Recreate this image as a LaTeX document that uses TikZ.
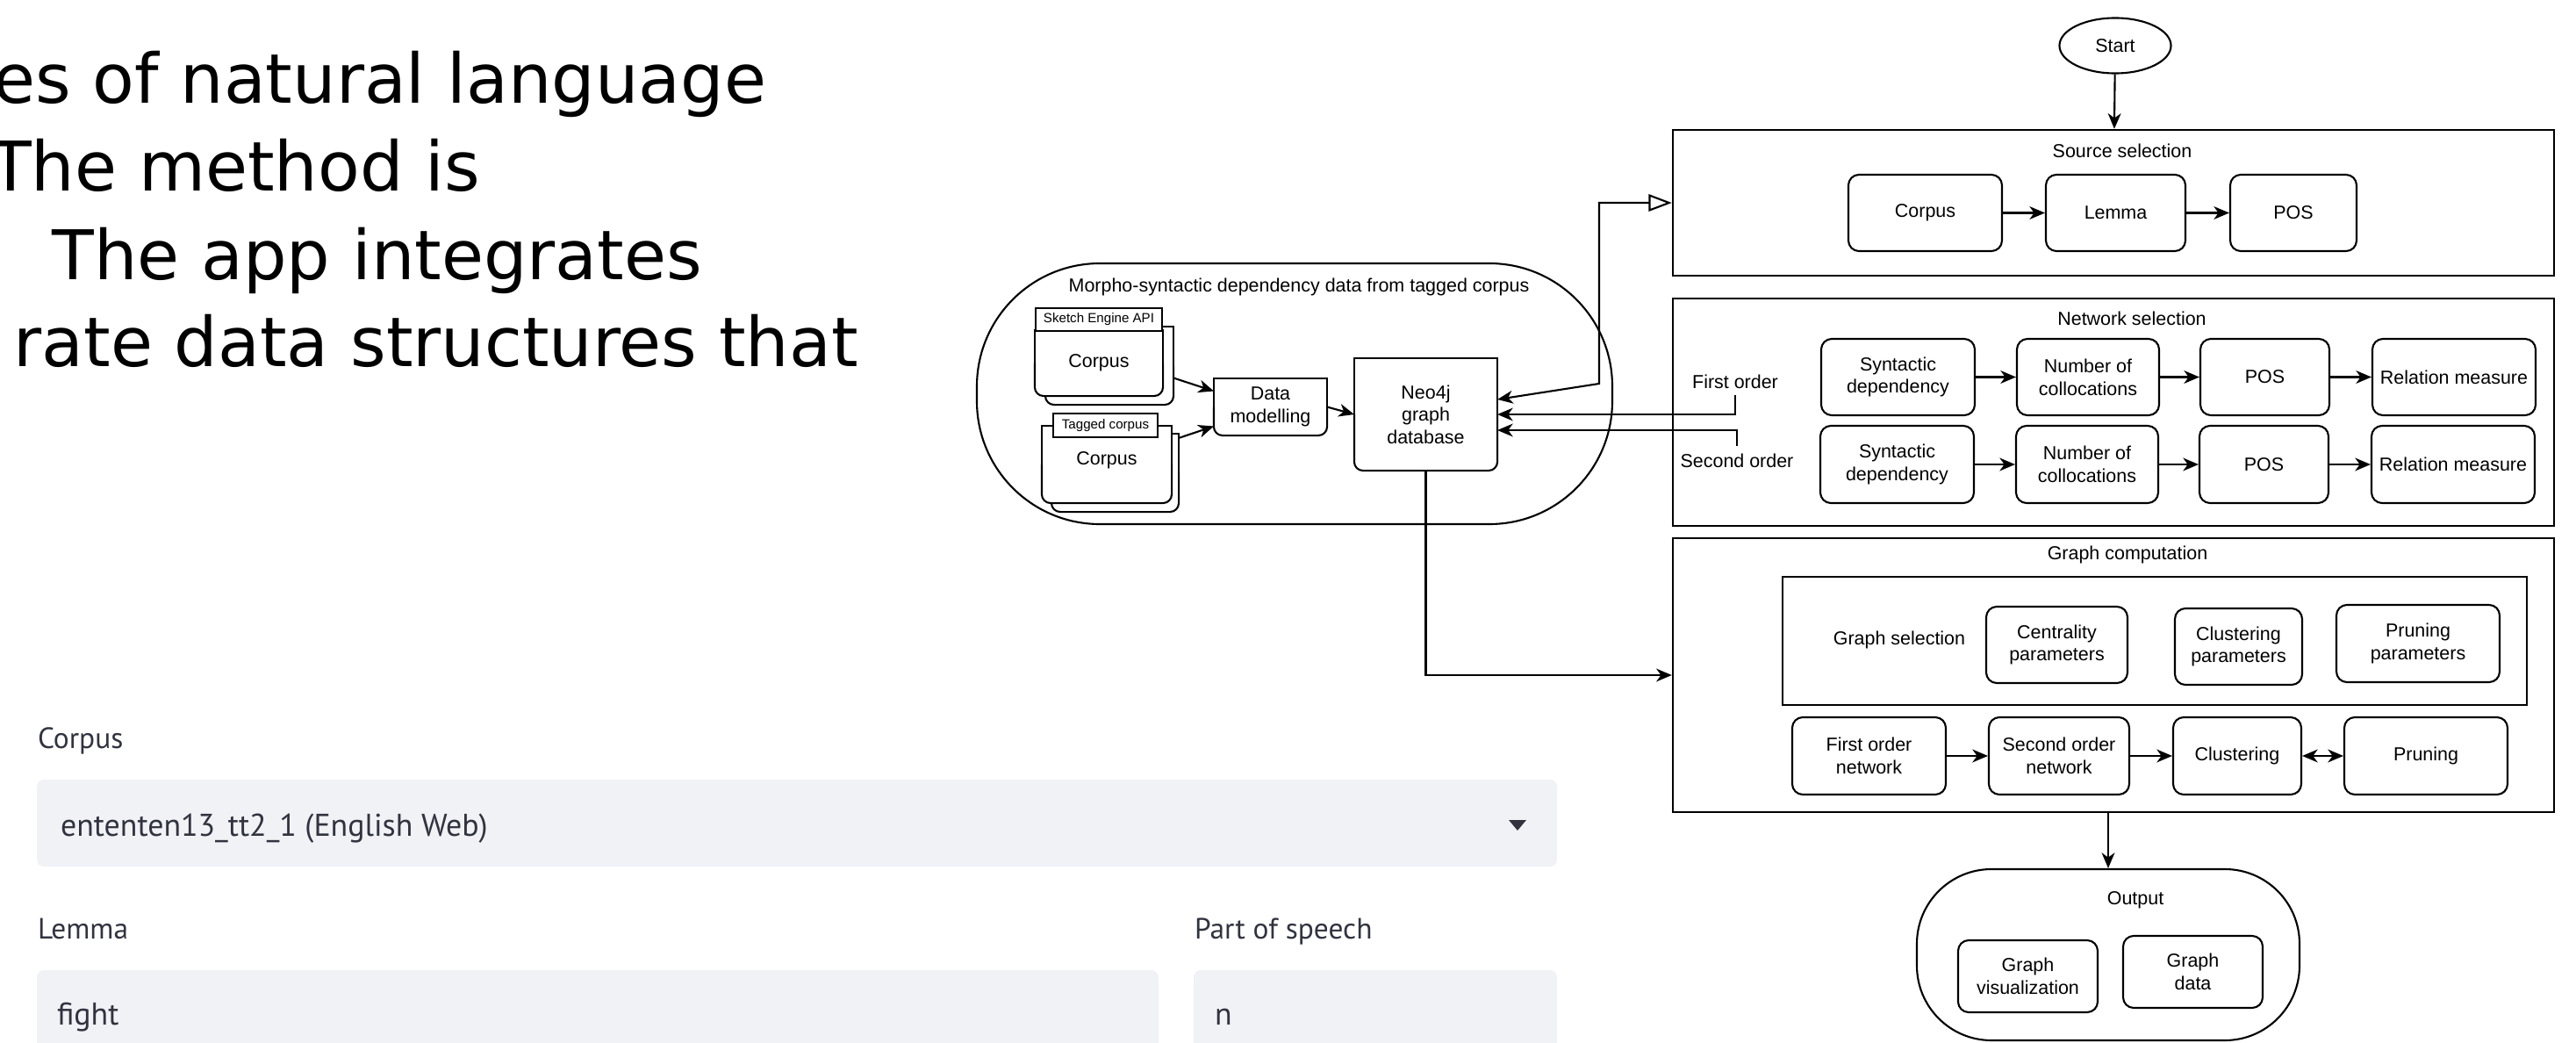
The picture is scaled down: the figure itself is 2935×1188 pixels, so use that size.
\documentclass[tikz,border=0pt]{standalone}
\usepackage{fontspec}
\setmainfont{Liberation Sans}
\newfontfamily\verdfont{DejaVu Sans}
\newfontfamily\uifont{PT Sans}
\usetikzlibrary{arrows.meta,shapes.geometric,calc}
\definecolor{uifill}{RGB}{240,242,246}
\definecolor{uitext}{RGB}{49,51,63}
\newcommand\dgm{\fontsize{6.1pt}{7.3pt}\selectfont}
\newcommand\dgmsmall{\fontsize{4.3pt}{5pt}\selectfont}
\newcommand\bigtxt{\verdfont\fontsize{22.2pt}{26pt}\selectfont}
\newcommand\uilabel{\uifont\fontsize{9.5pt}{11pt}\selectfont}
\newcommand\uival{\uifont\fontsize{10.2pt}{12pt}\selectfont}
% box from pixel extents: [opts]{name}{x1}{x2}{y1}{y2}{text}
\newcommand\nbox[7][]{\node[minimum width={(#4-#3)*0.01cm},minimum height={(#6-#5)*0.01cm},#1] (#2) at ({(#3+#4)/2},{(#5+#6)/2}) {#7};}
% outline with sharp top and rounded bottom
\newcommand\botround[1]{\draw (#1.west) -- (#1.north west) -- (#1.north east) -- (#1.east);
  \draw[rounded corners=0.1cm] (#1.west) -- (#1.south west) -- (#1.south east) -- (#1.east);}
\begin{document}
\begin{tikzpicture}[x=0.01cm,y=-0.01cm,line width=0.6pt,
  every node/.style={inner sep=0pt,font=\dgm,align=center},
  rbox/.style={draw,rounded corners=0.12cm},
  frame/.style={draw,line width=0.7pt},
  arr/.style={-{Stealth[length=5pt,width=4.2pt,inset=1.5pt]}},
  biarr/.style={{Stealth[length=5pt,width=4.2pt,inset=1.5pt]}-{Stealth[length=5pt,width=4.2pt,inset=1.5pt]}},
  bigline/.style={font=\bigtxt,anchor=base east,align=left},
  uilab/.style={font=\uilabel,text=uitext,anchor=base west,align=left},
  uival/.style={font=\uival,text=uitext,anchor=base west,align=left},
  uibox/.style={fill=uifill,rounded corners=0.08cm},
  docfill/.style={fill=white}]
\useasboundingbox (0,0) rectangle (2935,1188);
\clip (0,0) rectangle (2935,1188);

% ---------- left text ----------
\node[bigline] (t1) at (874,118) {es of natural language};
\node[bigline] (t2) at (548,218) {The method is};
\node[bigline] (t3) at (801,318) {The app integrates};
\node[bigline] (t4) at (979,418) {rate data structures that};

% ---------- UI form ----------
\node[uilab] (lcorp) at (42,852) {Corpus};
\nbox[uibox]{bcorp}{42}{1774}{888}{987}{}
\node[uival] (vcorp) at (68,952) {ententen13\_tt2\_1 (English Web)};
\fill[uitext] (1719,934) -- (1739,934) -- (1729,946) -- cycle;
\node[uilab] (llem) at (42,1069) {Lemma};
\node[uilab] (lpos) at (1360,1069) {Part of speech};
\nbox[uibox]{blem}{42}{1320}{1105}{1215}{}
\nbox[uibox]{bpos}{1360}{1774}{1105}{1215}{}
\node[uival] (vlem) at (64,1167) {fight};
\node[uival] (vpos) at (1383,1167) {n};

% ---------- Morpho-syntactic block ----------
\nbox[draw,rounded corners=1.4cm]{morph}{1113}{1837}{300}{597}{}
\node (mt) at (1480,327) {Morpho-syntactic dependency data from tagged corpus};
% Sketch Engine API document
\nbox[docfill]{sk2}{1192}{1336}{373}{460}{}
\botround{sk2}
\nbox[docfill]{sk1}{1180}{1324}{377}{450}{Corpus}
\botround{sk1}
\nbox[draw,fill=white,font=\dgmsmall]{skh}{1180}{1324}{351}{377}{Sketch Engine API}
% Tagged corpus document
\nbox[docfill]{tg2}{1199}{1342}{495}{582}{}
\botround{tg2}
\nbox[docfill]{tg1}{1188}{1334}{486}{572}{\raisebox{4pt}{Corpus}}
\botround{tg1}
\nbox[draw,fill=white,font=\dgmsmall]{tgh}{1200}{1319}{471}{498}{Tagged corpus}
% data modelling, neo4j
\nbox{dm}{1384}{1511}{432}{495}{Data\\modelling}
\botround{dm}
\nbox{neo}{1544}{1705}{409}{535}{Neo4j\\graph\\database}
\botround{neo}
\draw[arr] ($(sk2.east)+(0,14)$) -- ($(dm.west)+(0,-18)$);
\draw[arr] ($(tg2.north east)+(0,5)$) -- ($(dm.west)+(0,22)$);
\draw[arr] (dm.east) -- (neo.west);

% ---------- Start ----------
\node[draw,ellipse,minimum width=1.27cm,minimum height=0.63cm] (start) at (2410,52) {Start};

% ---------- Source selection ----------
\nbox[frame]{src}{1906}{2910}{148}{314}{}
\node (srct) at (2418,172) {Source selection};
\nbox[rbox]{corp}{2106}{2281}{199}{286}{Corpus}
\nbox[rbox]{lem}{2331}{2490}{199}{286}{Lemma}
\nbox[rbox]{posa}{2541}{2685}{199}{286}{POS}
\draw[arr] (start) -- (src);
\draw[arr] (corp) -- (lem);
\draw[arr] (lem) -- (posa);

% ---------- Network selection ----------
\nbox[frame]{net}{1906}{2910}{340}{599}{}
\node (nett) at (2429,363) {Network selection};
\node (fo) at (1977,435) {First order};
\node (so) at (1979,525) {Second order};
\nbox[rbox]{syn1}{2075}{2250}{386}{473}{Syntactic\\dependency}
\nbox[rbox]{num1}{2298}{2460}{386}{473}{Number of\\collocations}
\nbox[rbox]{pos1}{2507}{2654}{386}{473}{POS}
\nbox[rbox]{rel1}{2703}{2889}{386}{473}{Relation measure}
\nbox[rbox]{syn2}{2074}{2249}{485}{573}{Syntactic\\dependency}
\nbox[rbox]{num2}{2297}{2459}{485}{573}{Number of\\collocations}
\nbox[rbox]{pos2}{2506}{2653}{485}{573}{POS}
\nbox[rbox]{rel2}{2702}{2888}{485}{573}{Relation measure}
\draw[arr] (syn1) -- (num1);
\draw[arr] (num1) -- (pos1);
\draw[arr] (pos1) -- (rel1);
\draw[arr] (syn2) -- (num2);
\draw[arr] (num2) -- (pos2);
\draw[arr] (pos2) -- (rel2);

% ---------- Graph computation ----------
\nbox[frame]{gc}{1906}{2910}{613}{925}{}
\node (gct) at (2424,632) {Graph computation};
\nbox[draw]{gsel}{2031}{2879}{657}{803}{}
\node (gst) at (2164,729) {Graph selection};
\nbox[rbox]{cent}{2263}{2424}{691}{778}{Centrality\\parameters}
\nbox[rbox]{clup}{2478}{2623}{693}{780}{Clustering\\parameters}
\nbox[rbox]{prup}{2662}{2848}{689}{777}{Pruning\\parameters}
\nbox[rbox]{fon}{2042}{2217}{817}{905}{First order\\network}
\nbox[rbox]{son}{2266}{2426}{817}{905}{Second order\\network}
\nbox[rbox]{clu}{2476}{2622}{817}{905}{Clustering}
\nbox[rbox]{pru}{2671}{2857}{817}{905}{Pruning}
\draw[arr] (fon) -- (son);
\draw[arr] (son) -- (clu);
\draw[biarr] (clu) -- (pru);

% ---------- Output ----------
\nbox[draw,rounded corners=0.85cm]{out}{2184}{2620}{990}{1185}{}
\node (outt) at (2433,1025) {Output};
\nbox[rbox]{gv}{2231}{2390}{1071}{1153}{Graph\\visualization}
\nbox[rbox]{gd}{2419}{2578}{1066}{1148}{Graph\\data}
\draw[arr] (gc.south -| out.north) -- (out.north);

% ---------- cross connectors ----------
\coordinate (bendA) at (1822,437);
\coordinate (bendB) at (1822,231);
\draw[{Stealth[length=5pt,width=4.2pt,inset=1.5pt]}-{Triangle[open,length=7.5pt,width=5.5pt]}]
  ($(neo.east)+(0,-17)$) -- (bendA) -- (bendB) -- (src.west);
\draw[arr] ($(fo.south)+(0,6)$) |- (neo.east);
\draw[arr] ($(so.north)+(0,-8)$) |- ($(neo.east)+(0,18)$);
\draw[arr] (neo.south) |- (gc.west);
\end{tikzpicture}
\end{document}
